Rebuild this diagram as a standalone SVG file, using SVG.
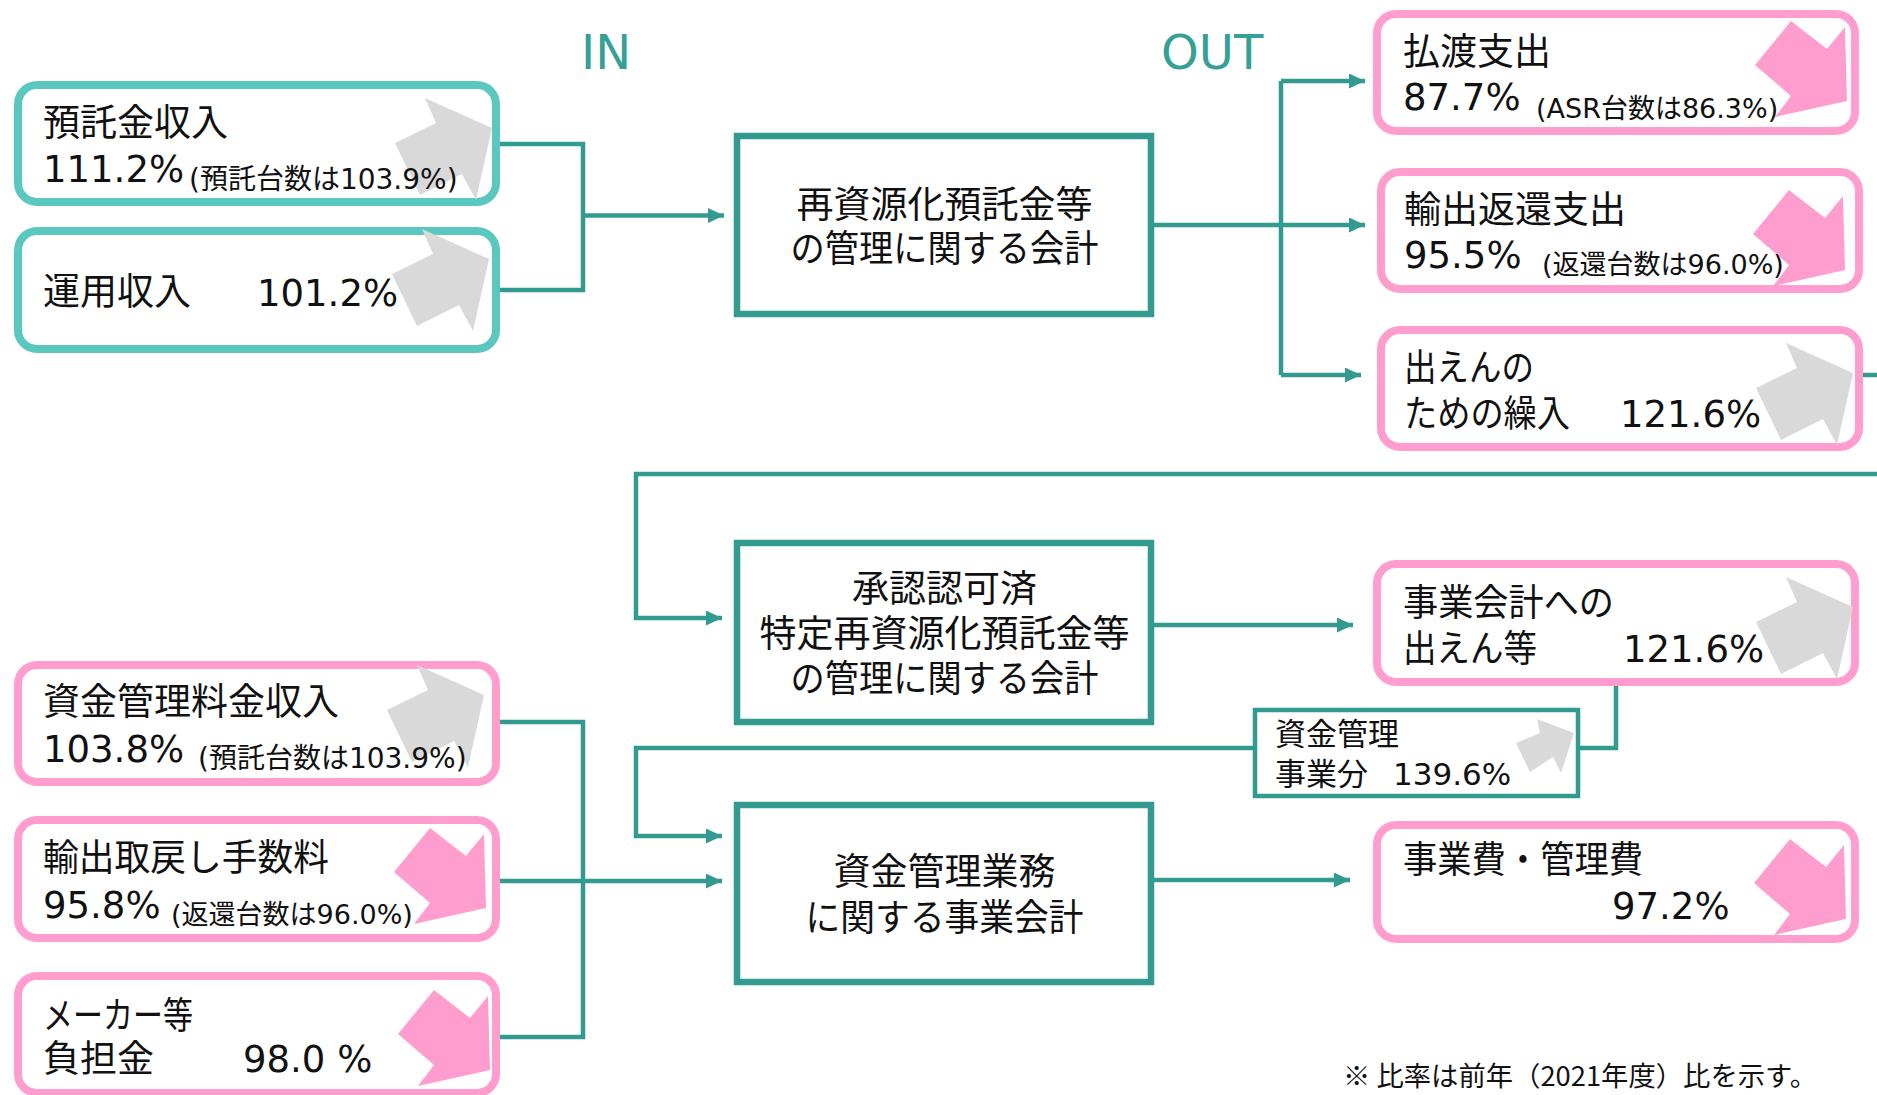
<svg xmlns="http://www.w3.org/2000/svg" xmlns:xlink="http://www.w3.org/1999/xlink" width="1877" height="1095" viewBox="0 0 1877 1095">
<style>
.t{font-family:"DejaVu Sans","Noto Sans CJK JP",sans-serif;fill:#111}
.m{font-size:37px}
.s{font-size:27px}
.s28{font-size:28px}
.c{text-anchor:middle}
.ttl{font-family:"DejaVu Sans",sans-serif;font-size:48px;fill:#35A096}
.bt{fill:#fff;stroke:#5BC8C0;stroke-width:8}
.bp{fill:#fff;stroke:#FF9ECE;stroke-width:8}
.bc{fill:#fff;stroke:#339A8F;stroke-width:6.5}
.cn{fill:none;stroke:#339A8F;stroke-width:4.5}
.up{fill:#D9D9D9}
.dn{fill:#FF9ECE}
</style>
<defs>
<marker id="ah" markerUnits="userSpaceOnUse" markerWidth="17" markerHeight="16" refX="16" refY="7.5" orient="auto">
<path d="M0,0 L16,7.5 L0,15 z" fill="#339A8F"/>
</marker>
<polygon id="gUp" points="-75,17 -8,47 -24,119 -38,93 -80,114 -105,62 -64,42"/>
<polygon id="pDn" points="-68,12 -32,40 -14,18 -12,92 -84,108 -68,87 -104,56"/>
</defs>
<rect width="1877" height="1095" fill="#fff"/>

<g id="titles">
<text class="ttl" x="581" y="69">IN</text>
<text class="ttl" x="1161" y="69">OUT</text>
</g>

<g id="connectors">
<path class="cn" d="M500,144 H583 V290 H500"/>
<path class="cn" d="M583,215.5 H724" marker-end="url(#ah)"/>
<path class="cn" d="M1281,81 V375"/>
<path class="cn" d="M1154,225 H1365" marker-end="url(#ah)"/>
<path class="cn" d="M1281,81 H1365" marker-end="url(#ah)"/>
<path class="cn" d="M1281,375 H1361" marker-end="url(#ah)"/>
<path class="cn" d="M1863,375 H1900 V474 H636 V618 H722" marker-end="url(#ah)"/>
<path class="cn" d="M1154,625 H1353" marker-end="url(#ah)"/>
<path class="cn" d="M1616,686 V748 H1580"/>
<path class="cn" d="M1253,748 H636 V836 H722" marker-end="url(#ah)"/>
<path class="cn" d="M500,722 H583 V1037 H500"/>
<path class="cn" d="M500,881 H722" marker-end="url(#ah)"/>
<path class="cn" d="M1154,880 H1350" marker-end="url(#ah)"/>
</g>

<g id="n-yotaku">
<rect class="bt" x="18" y="85" width="478" height="117" rx="19"/>
<use xlink:href="#gUp" class="up" transform="translate(500,81)"/>
<text class="t m" x="43" y="136">預託金収入</text>
<text class="t m" x="43" y="182">111.2%</text>
<text class="t s28" x="189" y="189">(預託台数は103.9%)</text>
</g>

<g id="n-unyo">
<rect class="bt" x="18" y="231" width="478" height="118" rx="19"/>
<use xlink:href="#gUp" class="up" transform="translate(497,212)"/>
<text class="t m" x="43" y="305">運用収入</text>
<text class="t m" x="257" y="306">101.2%</text>
</g>

<g id="n-shikin-ryokin">
<rect class="bp" x="18" y="665" width="478" height="117" rx="19"/>
<use xlink:href="#gUp" class="up" transform="translate(492,648)"/>
<text class="t m" x="43" y="715">資金管理料金収入</text>
<text class="t m" x="43" y="762">103.8%</text>
<text class="t s28" x="198" y="768">(預託台数は103.9%)</text>
</g>

<g id="n-yushutsu-tesuryo">
<rect class="bp" x="18" y="820" width="478" height="118" rx="19"/>
<use xlink:href="#pDn" class="dn" transform="translate(498,816)"/>
<text class="t m" x="43" y="871" textLength="286" lengthAdjust="spacingAndGlyphs">輸出取戻し手数料</text>
<text class="t m" x="43" y="918">95.8%</text>
<text class="t s" x="171" y="924">(返還台数は96.0%)</text>
</g>

<g id="n-maker">
<rect class="bp" x="18" y="976" width="478" height="117" rx="19"/>
<use xlink:href="#pDn" class="dn" transform="translate(502,978)"/>
<text class="t m" x="43" y="1029" textLength="150" lengthAdjust="spacingAndGlyphs">メーカー等</text>
<text class="t m" x="43" y="1072">負担金</text>
<text class="t m" x="243" y="1072">98.0 %</text>
</g>

<g id="n-saishigen">
<rect class="bc" x="737" y="136" width="414" height="178"/>
<text class="t m c" x="944.5" y="218">再資源化預託金等</text>
<text class="t m c" x="944.5" y="262" textLength="308" lengthAdjust="spacingAndGlyphs">の管理に関する会計</text>
</g>

<g id="n-shonin">
<rect class="bc" x="737" y="543" width="414" height="179"/>
<text class="t m c" x="944.5" y="602">承認認可済</text>
<text class="t m c" x="944.5" y="647">特定再資源化預託金等</text>
<text class="t m c" x="944.5" y="692" textLength="308" lengthAdjust="spacingAndGlyphs">の管理に関する会計</text>
</g>

<g id="n-shikin-kanri">
<rect class="bc" x="737" y="805" width="414" height="177"/>
<text class="t m c" x="944.5" y="885">資金管理業務</text>
<text class="t m c" x="944.5" y="931" textLength="278" lengthAdjust="spacingAndGlyphs">に関する事業会計</text>
</g>

<g id="n-harawatashi">
<rect class="bp" x="1377" y="14" width="478" height="117" rx="19"/>
<use xlink:href="#pDn" class="dn" transform="translate(1859,9)"/>
<text class="t m" x="1403" y="65">払渡支出</text>
<text class="t m" x="1403" y="110">87.7%</text>
<text class="t s" x="1536" y="118">(ASR台数は86.3%)</text>
</g>

<g id="n-yushutsu-henkan">
<rect class="bp" x="1381" y="172" width="478" height="117" rx="19"/>
<use xlink:href="#pDn" class="dn" transform="translate(1857,178)"/>
<text class="t m" x="1404" y="223">輸出返還支出</text>
<text class="t m" x="1404" y="268">95.5%</text>
<text class="t s" x="1542" y="274">(返還台数は96.0%)</text>
</g>

<g id="n-shutsuen-kuriire">
<rect class="bp" x="1381" y="330" width="478" height="117" rx="19"/>
<use xlink:href="#gUp" class="up" transform="translate(1861,326)"/>
<text class="t m" x="1404" y="381" textLength="130" lengthAdjust="spacingAndGlyphs">出えんの</text>
<text class="t m" x="1404" y="427" textLength="166" lengthAdjust="spacingAndGlyphs">ための繰入</text>
<text class="t m" x="1620" y="427">121.6%</text>
</g>

<g id="n-jigyo-shutsuen">
<rect class="bp" x="1377" y="564" width="478" height="118" rx="19"/>
<use xlink:href="#gUp" class="up" transform="translate(1861,560)"/>
<text class="t m" x="1403" y="616" textLength="211" lengthAdjust="spacingAndGlyphs">事業会計への</text>
<text class="t m" x="1403" y="662" textLength="134" lengthAdjust="spacingAndGlyphs">出えん等</text>
<text class="t m" x="1623" y="662">121.6%</text>
</g>

<g id="n-shikin-jigyobun">
<rect x="1255" y="710" width="323" height="86" fill="#fff" stroke="#339A8F" stroke-width="4.5"/>
<polygon class="up" points="1537,719 1574,733 1561,773 1553,757 1530,772 1516,743 1540,733"/>
<text class="t" style="font-size:31px" x="1275" y="745">資金管理</text>
<text class="t" style="font-size:31px" x="1275" y="785">事業分</text>
<text class="t" style="font-size:31px" x="1393" y="785">139.6%</text>
</g>

<g id="n-jigyohi">
<rect class="bp" x="1377" y="825" width="478" height="114" rx="19"/>
<use xlink:href="#pDn" class="dn" transform="translate(1858,827)"/>
<text class="t m" x="1403" y="873" textLength="240" lengthAdjust="spacingAndGlyphs">事業費・管理費</text>
<text class="t m" x="1612" y="919">97.2%</text>
</g>

<g id="note">
<text style="font-family:'Noto Sans CJK JP',sans-serif;font-size:27px;fill:#111" x="1343" y="1086" textLength="474" lengthAdjust="spacingAndGlyphs">※ 比率は前年（2021年度）比を示す。</text>
</g>
</svg>
